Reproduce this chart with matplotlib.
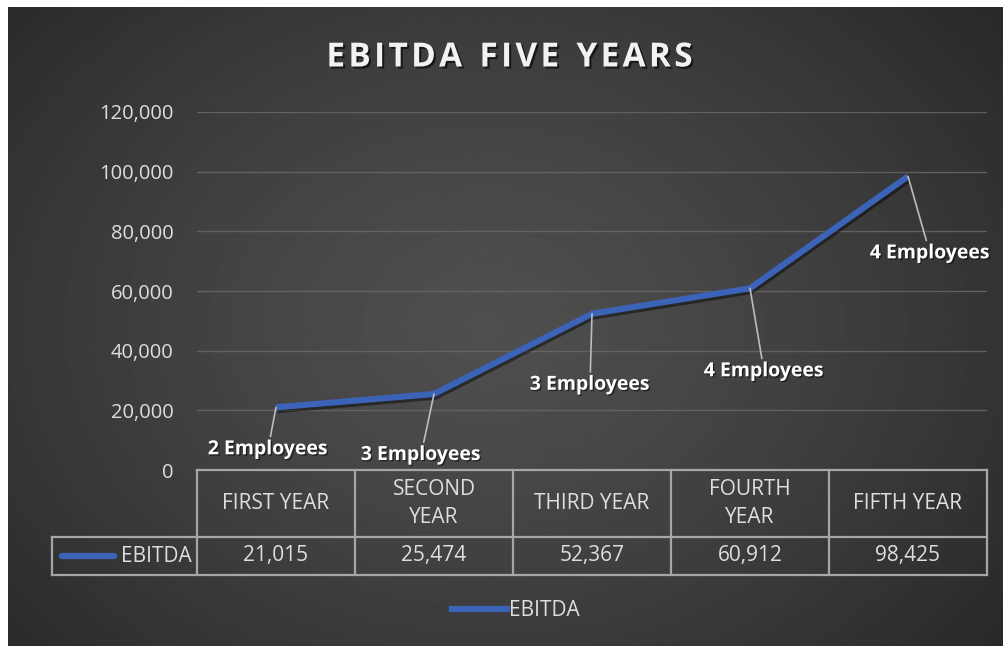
import numpy as np
import matplotlib.pyplot as plt
import matplotlib.patheffects as pe
from matplotlib.lines import Line2D

plt.rcParams['font.family'] = ['Open Sans', 'DejaVu Sans']

years = ["FIRST YEAR", "SECOND\nYEAR", "THIRD YEAR", "FOURTH\nYEAR", "FIFTH YEAR"]
ebitda = [21015, 25474, 52367, 60912, 98425]
staff = ["2 Employees", "3 Employees", "3 Employees", "4 Employees", "4 Employees"]
yticks = [0, 20000, 40000, 60000, 80000, 100000, 120000]

# label offsets from each point, in pixels
label_offsets = [(-8, -42), (-13, -61), (-2, -71), (14, -83), (22, -77)]

W, H = 1004, 646
BLUE = '#3b63b7'
TXT = '#dedede'
fig = plt.figure(figsize=(W / 100, H / 100), dpi=100, facecolor='white')

# dark panel with a soft radial gradient
bg = fig.add_axes([8 / W, 0, (W - 8) / W, (H - 7) / H])
yy, xx = np.mgrid[0:1:320j, 0:1:500j]
r = np.hypot((xx - 0.48) / 0.7, (yy - 0.5) / 0.85)
shade = 0.31 - 0.16 * np.clip(r, 0, 1) ** 1.3
bg.imshow(shade, cmap='gray', vmin=0, vmax=1, aspect='auto', interpolation='bilinear')
bg.axis('off')

# main line plot
ax = fig.add_axes([197 / W, 1 - 470 / H, 790 / W, 358 / H])
ax.set_facecolor('none')
x = np.arange(len(ebitda))
ax.plot(x, ebitda, color=BLUE, lw=4.4, solid_joinstyle='miter', solid_capstyle='butt',
        path_effects=[pe.SimpleLineShadow(offset=(1, -2), shadow_color='black', alpha=0.45),
                      pe.Normal()], zorder=3)
ax.set_xlim(-0.5, len(ebitda) - 0.5)
ax.set_ylim(0, 120000)
ax.set_yticks(yticks)
ax.set_yticklabels([f"{v:,}" for v in yticks], color=TXT, fontsize=14.5)
ax.set_xticks([])
ax.tick_params(axis='y', length=0, pad=17)
ax.grid(axis='y', color='#6a6a6a', lw=1.0, alpha=0.8)
for s in ax.spines.values():
    s.set_visible(False)

for i, (lab, off) in enumerate(zip(staff, label_offsets)):
    ax.annotate(lab, xy=(i, ebitda[i]), xytext=off, textcoords='offset pixels',
                ha='center', va='center', color='white', fontsize=14, fontweight='bold',
                arrowprops=dict(arrowstyle='-', color='#bdbdbd', lw=1.2, shrinkA=0, shrinkB=0),
                path_effects=[pe.withSimplePatchShadow(offset=(1, -1), shadow_rgbFace='black', alpha=0.5)],
                zorder=4)

title = "\u200a".join("EBITDA FIVE YEARS").replace("\u200a \u200a", "  ")
fig.text(510 / W, 1 - 58 / H, title,
         ha='center', va='center', color='#f2f2f2', fontsize=24, fontweight='bold',
         path_effects=[pe.withSimplePatchShadow(offset=(1.5, -1.5), shadow_rgbFace='black', alpha=0.6)])

# data table under the plot, in pixel coordinates
ov = fig.add_axes([0, 0, 1, 1])
ov.set_xlim(0, W)
ov.set_ylim(H, 0)
ov.axis('off')

edges = [ax.transData.transform((i - 0.5, 0))[0] for i in range(len(ebitda) + 1)]
top, mid, bot = 470, 537, 575
left = 52
lc = '#a6a6a6'
ov.plot([edges[0], edges[-1]], [top, top], color=lc, lw=1.6)
ov.plot([left, edges[-1]], [mid, mid], color=lc, lw=1.6)
ov.plot([left, edges[-1]], [bot, bot], color=lc, lw=1.6)
ov.plot([left, left], [mid, bot], color=lc, lw=1.6)
for e in edges:
    ov.plot([e, e], [top, bot], color=lc, lw=1.6)
for i in range(len(ebitda)):
    cx = (edges[i] + edges[i + 1]) / 2
    ov.text(cx, (top + mid) / 2, years[i], ha='center', va='center', color=TXT,
            fontsize=15, linespacing=1.45)
    ov.text(cx, (mid + bot) / 2, f"{ebitda[i]:,}", ha='center', va='center', color=TXT,
            fontsize=15)
ov.add_line(Line2D([62, 114], [556, 556], color=BLUE, lw=4.5, solid_capstyle='round'))
ov.text(192, (mid + bot) / 2, "EBITDA", ha='right', va='center', color=TXT, fontsize=15)

fig.legend(handles=[Line2D([], [], color=BLUE, lw=4.5)], labels=["EBITDA"],
           loc='center', bbox_to_anchor=(516 / W, 1 - 611 / H), frameon=False,
           handlelength=2.6, handletextpad=0.1, labelcolor=TXT, fontsize=15)

fig.savefig('out.png', dpi=100, facecolor='white')
